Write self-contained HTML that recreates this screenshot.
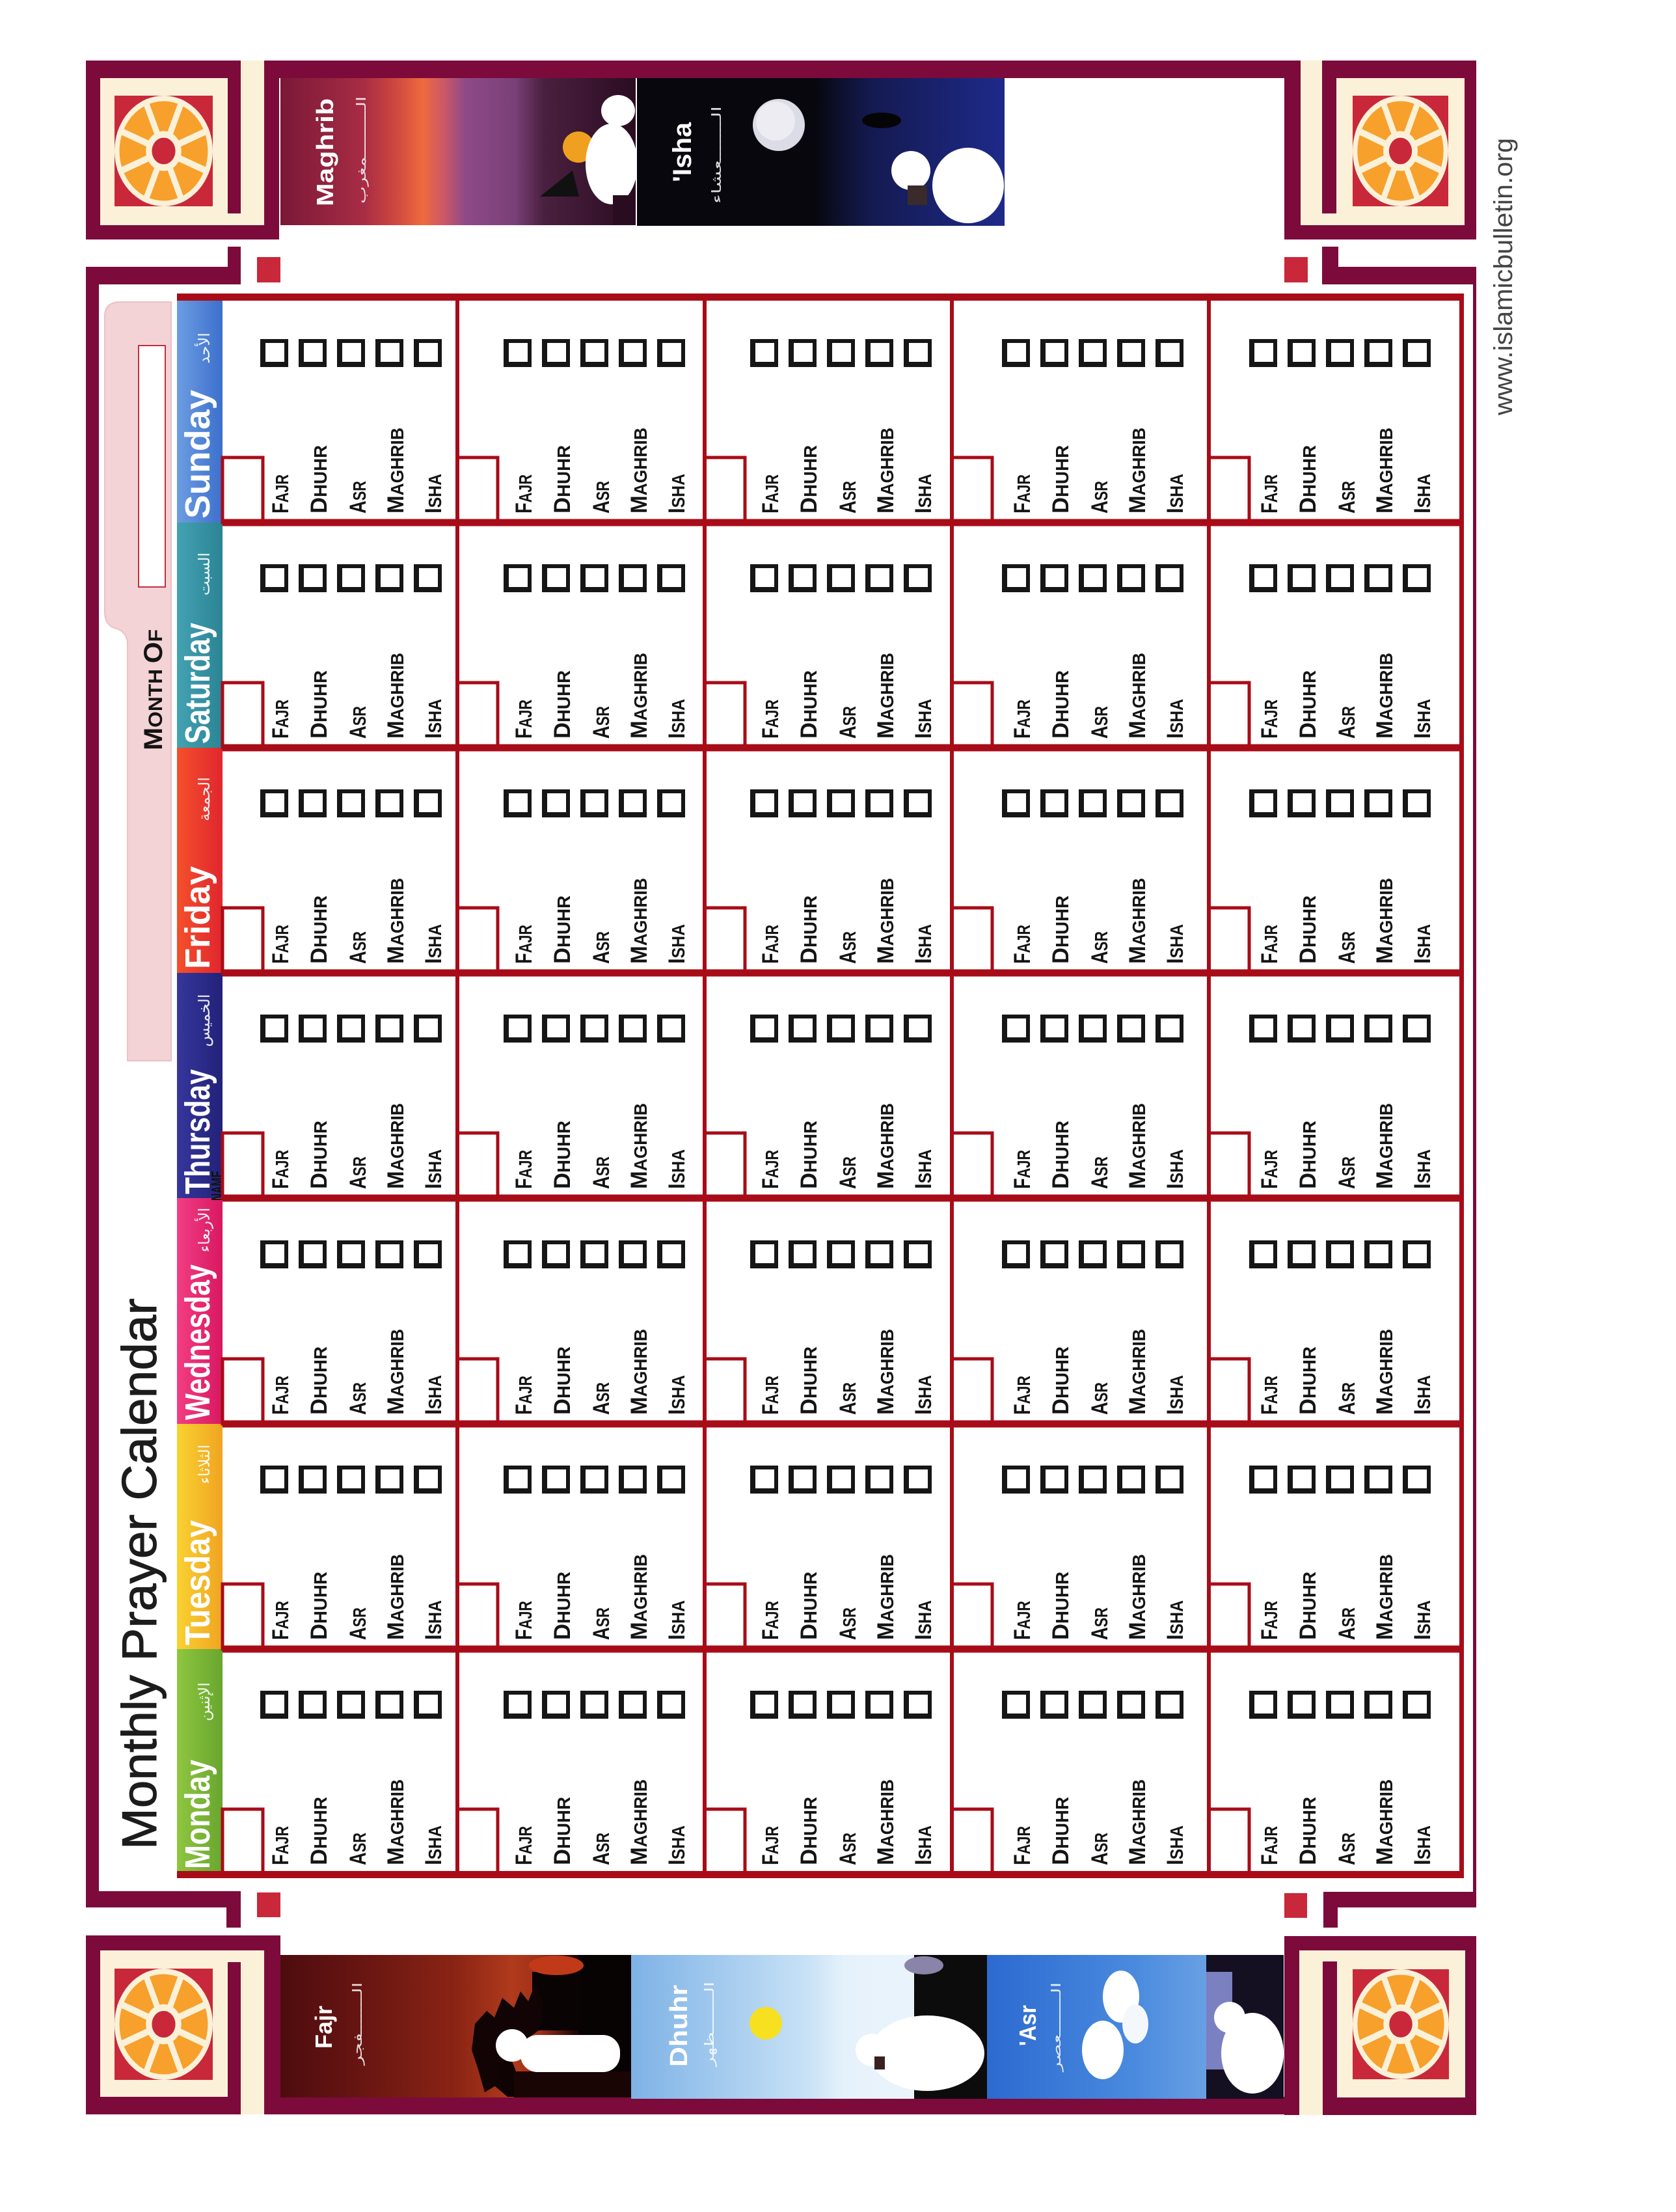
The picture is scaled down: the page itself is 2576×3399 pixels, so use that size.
<!DOCTYPE html>
<html><head><meta charset="utf-8">
<style>
html,body{margin:0;padding:0;background:#fff}
svg{display:block}
.m{fill:#7c0b3c}.cr{fill:#fbf1d8}.rq{fill:#c8283a}
.g text{font-family:"Liberation Sans",sans-serif;font-weight:bold;font-size:35px;fill:#141414}
.g tspan{font-size:28px}
.d{fill:none;stroke:#a80c18;stroke-width:5}
.c{fill:#161616;fill-rule:evenodd}
.dn{font-family:"Liberation Sans",sans-serif;font-weight:bold;font-size:54px;fill:#fff}
.ar{font-family:"DejaVu Sans",sans-serif;font-size:24px;fill:#fff;fill-opacity:.9}
.it{font-family:"Liberation Sans",sans-serif;font-weight:bold;fill:#fff}
.ia{font-family:"DejaVu Sans",sans-serif;font-size:20px;fill:#fff;fill-opacity:.85}
.gl{fill:#a80c18}
</style></head><body>
<svg width="2576" height="3399" viewBox="0 0 2576 3399" xmlns="http://www.w3.org/2000/svg">
<defs>
<linearGradient id="gSun" x1="0" x2="1" y1="0" y2="0"><stop offset="0" stop-color="#6c9de2"/><stop offset="1" stop-color="#3c70cc"/></linearGradient>
<linearGradient id="gSat" x1="0" x2="1" y1="0" y2="0"><stop offset="0" stop-color="#44a2b2"/><stop offset="1" stop-color="#2a8494"/></linearGradient>
<linearGradient id="gFri" x1="0" x2="1" y1="0" y2="0"><stop offset="0" stop-color="#f4502c"/><stop offset="1" stop-color="#e0262e"/></linearGradient>
<linearGradient id="gThu" x1="0" x2="1" y1="0" y2="0"><stop offset="0" stop-color="#36369c"/><stop offset="1" stop-color="#22227a"/></linearGradient>
<linearGradient id="gWed" x1="0" x2="1" y1="0" y2="0"><stop offset="0" stop-color="#f23e84"/><stop offset="1" stop-color="#d81860"/></linearGradient>
<linearGradient id="gTue" x1="0" x2="1" y1="0" y2="0"><stop offset="0" stop-color="#f9d232"/><stop offset="1" stop-color="#f0a422"/></linearGradient>
<linearGradient id="gMon" x1="0" x2="1" y1="0" y2="0"><stop offset="0" stop-color="#8ec640"/><stop offset="1" stop-color="#68a62e"/></linearGradient>
<linearGradient id="gMag" x1="0" x2="1" y1="0" y2="0">
<stop offset="0" stop-color="#7a1838"/><stop offset="0.236" stop-color="#a82c44"/><stop offset="0.33" stop-color="#d04a40"/><stop offset="0.40" stop-color="#ee6a3c"/><stop offset="0.46" stop-color="#cc5868"/><stop offset="0.52" stop-color="#8e4a86"/><stop offset="0.66" stop-color="#7a4078"/><stop offset="0.74" stop-color="#4a2040"/><stop offset="1" stop-color="#2a0c20"/></linearGradient>
<linearGradient id="gIsha" x1="0" x2="1" y1="0" y2="0"><stop offset="0" stop-color="#07070d"/><stop offset="0.3" stop-color="#141a50"/><stop offset="1" stop-color="#1e2a8a"/></linearGradient>
<linearGradient id="gFajr" x1="0" x2="1" y1="0" y2="0">
<stop offset="0" stop-color="#4e0c0e"/><stop offset="0.25" stop-color="#6a1612"/><stop offset="0.5" stop-color="#8a2414"/><stop offset="0.66" stop-color="#b03a1c"/><stop offset="0.74" stop-color="#a03018"/><stop offset="0.84" stop-color="#200606"/><stop offset="1" stop-color="#080303"/></linearGradient>
<linearGradient id="gDhu" x1="0" x2="1" y1="0" y2="0">
<stop offset="0" stop-color="#7eb2e6"/><stop offset="0.5" stop-color="#c8e2f6"/><stop offset="0.6" stop-color="#e6f2fb"/><stop offset="1" stop-color="#eef5fb"/></linearGradient>
<linearGradient id="gAsr" x1="0" x2="1" y1="0" y2="0">
<stop offset="0" stop-color="#2c6ad0"/><stop offset="0.5" stop-color="#4a8ade"/><stop offset="1" stop-color="#8ab8ea"/></linearGradient>
</defs>
<rect width="2576" height="3399" fill="#fff"/>

<!-- frame bands -->
<rect class="m" x="132" y="93" width="2137" height="27"/>
<rect class="m" x="132" y="3222" width="2137" height="27"/>
<rect class="m" x="132" y="410" width="20" height="2521"/>
<rect class="m" x="2264" y="410" width="5" height="2521"/>
<rect class="m" x="132" y="410" width="238" height="27"/><rect class="m" x="350" y="379" width="20" height="58"/>
<rect class="m" x="2032" y="410" width="237" height="27"/><rect class="m" x="2032" y="379" width="25" height="58"/>
<rect class="m" x="132" y="2906" width="238" height="25"/><rect class="m" x="348" y="2906" width="22" height="56"/>
<rect class="m" x="2034" y="2907" width="235" height="24"/><rect class="m" x="2034" y="2907" width="22" height="55"/>
<rect class="rq" x="395" y="395" width="36" height="39"/>
<rect class="rq" x="1974" y="395" width="36" height="39"/>
<rect class="rq" x="395" y="2908" width="36" height="38"/>
<rect class="rq" x="1974" y="2909" width="35" height="38"/>

<!-- corner blocks -->
<rect class="m" x="132" y="93" width="297" height="275"/><rect class="cr" x="154" y="120" width="252" height="226"/><rect class="cr" x="370" y="93" width="36" height="27"/><rect class="m" x="350" y="93" width="20" height="235"/>
<rect class="m" x="1974" y="93" width="295" height="275"/><rect class="cr" x="1999" y="120" width="252" height="226"/><rect class="cr" x="1999" y="93" width="33" height="27"/><rect class="m" x="2032" y="93" width="22" height="235"/>
<rect class="m" x="132" y="2974" width="299" height="275"/><rect class="cr" x="154" y="2997" width="252" height="225"/><rect class="cr" x="370" y="3222" width="36" height="27"/><rect class="m" x="350" y="3015" width="20" height="234"/>
<rect class="m" x="1974" y="2975" width="295" height="275"/><rect class="cr" x="1997" y="2997" width="255" height="226"/><rect class="cr" x="1997" y="3223" width="36" height="27"/><rect class="m" x="2033" y="3014" width="22" height="236"/>

<g transform="translate(176,147) scale(1.51,1.70)"><rect width="100" height="100" fill="#c8283a"/><circle cx="50" cy="50" r="50" fill="#fbf1d8"/><circle cx="50" cy="50" r="45" fill="#f7a02c"/><path d="M96.2 30.9L3.8 69.1M69.1 3.8L30.9 96.2M30.9 3.8L69.1 96.2M3.8 30.9L96.2 69.1" stroke="#fbf1d8" stroke-width="6"/><circle cx="50" cy="50" r="18" fill="#fbf1d8"/><circle cx="50" cy="50" r="12" fill="#c8283a"/></g>
<g transform="translate(2079,147) scale(1.47,1.70)"><rect width="100" height="100" fill="#c8283a"/><circle cx="50" cy="50" r="50" fill="#fbf1d8"/><circle cx="50" cy="50" r="45" fill="#f7a02c"/><path d="M96.2 30.9L3.8 69.1M69.1 3.8L30.9 96.2M30.9 3.8L69.1 96.2M3.8 30.9L96.2 69.1" stroke="#fbf1d8" stroke-width="6"/><circle cx="50" cy="50" r="18" fill="#fbf1d8"/><circle cx="50" cy="50" r="12" fill="#c8283a"/></g>
<g transform="translate(176,3025) scale(1.51,1.71)"><rect width="100" height="100" fill="#c8283a"/><circle cx="50" cy="50" r="50" fill="#fbf1d8"/><circle cx="50" cy="50" r="45" fill="#f7a02c"/><path d="M96.2 30.9L3.8 69.1M69.1 3.8L30.9 96.2M30.9 3.8L69.1 96.2M3.8 30.9L96.2 69.1" stroke="#fbf1d8" stroke-width="6"/><circle cx="50" cy="50" r="18" fill="#fbf1d8"/><circle cx="50" cy="50" r="12" fill="#c8283a"/></g>
<g transform="translate(2079,3026) scale(1.48,1.69)"><rect width="100" height="100" fill="#c8283a"/><circle cx="50" cy="50" r="50" fill="#fbf1d8"/><circle cx="50" cy="50" r="45" fill="#f7a02c"/><path d="M96.2 30.9L3.8 69.1M69.1 3.8L30.9 96.2M30.9 3.8L69.1 96.2M3.8 30.9L96.2 69.1" stroke="#fbf1d8" stroke-width="6"/><circle cx="50" cy="50" r="18" fill="#fbf1d8"/><circle cx="50" cy="50" r="12" fill="#c8283a"/></g>

<!-- top images -->
<rect x="431" y="120" width="546" height="226" fill="url(#gMag)"/>
<circle cx="889" cy="226" r="24" fill="#f0a020"/>
<polygon points="830,302 880,262 890,302" fill="#111"/>
<ellipse cx="940" cy="252" rx="40" ry="62" fill="#fff"/>
<ellipse cx="950" cy="170" rx="26" ry="24" fill="#fff"/>
<rect x="942" y="300" width="35" height="46" fill="#2a0c20"/>
<text class="it" font-size="36" transform="translate(512,317) rotate(-90)" textLength="166" lengthAdjust="spacingAndGlyphs">Maghrib</text>
<text class="ia" transform="translate(562,313) rotate(-90)" textLength="165" lengthAdjust="spacingAndGlyphs">الـــــــــمغرب</text>

<rect x="979" y="120" width="565" height="227" fill="#07070d"/>
<rect x="1250" y="120" width="294" height="227" fill="url(#gIsha)"/>
<circle cx="1197" cy="192" r="40" fill="#dcdce6"/>
<circle cx="1192" cy="186" r="30" fill="#ececf2"/>
<ellipse cx="1355" cy="185" rx="30" ry="12" fill="#050508"/>
<ellipse cx="1488" cy="285" rx="55" ry="58" fill="#fff"/>
<circle cx="1400" cy="262" r="30" fill="#fff"/>
<rect x="1395" y="285" width="30" height="30" fill="#3a2a2a"/>
<text class="it" font-size="40" transform="translate(1062,280) rotate(-90)" textLength="92" lengthAdjust="spacingAndGlyphs">'Isha</text>
<text class="ia" transform="translate(1108,313) rotate(-90)" textLength="150" lengthAdjust="spacingAndGlyphs">الـــــــعشاء</text>

<!-- bottom images -->
<rect x="431" y="3004" width="539" height="219" fill="url(#gFajr)"/>
<rect x="889" y="3004" width="81" height="219" fill="#080303"/>
<rect x="818" y="3030" width="75" height="90" fill="#0a0303"/>
<ellipse cx="855" cy="3020" rx="42" ry="15" fill="#c03a1a"/>
<polygon points="730,3110 748,3090 760,3100 772,3070 790,3085 800,3060 812,3075 822,3050 835,3080 828,3120 800,3140 770,3200 745,3215 735,3180 725,3150" fill="#120404"/>
<polygon points="780,3150 800,3200 830,3222 780,3222 760,3205" fill="#100303"/>
<rect x="790" y="3183" width="180" height="40" fill="#1a0505"/>
<rect x="800" y="3127" width="153" height="57" rx="26" fill="#fff"/>
<circle cx="787" cy="3143" r="25" fill="#fff"/>
<text class="it" font-size="36" transform="translate(510,3148) rotate(-90)" textLength="66" lengthAdjust="spacingAndGlyphs">Fajr</text>
<text class="ia" transform="translate(556,3173) rotate(-90)" textLength="127" lengthAdjust="spacingAndGlyphs">الـــــــفجر</text>

<rect x="970" y="3004" width="547" height="221" fill="url(#gDhu)"/>
<rect x="1405" y="3004" width="112" height="221" fill="#0c0c0c"/>
<ellipse cx="1420" cy="3020" rx="30" ry="14" fill="#8a84a8"/>
<circle cx="1177" cy="3109" r="25" fill="#f6e020"/>
<ellipse cx="1425" cy="3155" rx="88" ry="58" fill="#fff"/>
<circle cx="1340" cy="3150" r="25" fill="#fff"/>
<rect x="1344" y="3160" width="16" height="20" fill="#3a2020"/>
<text class="it" font-size="38" transform="translate(1056,3176) rotate(-90)" textLength="126" lengthAdjust="spacingAndGlyphs">Dhuhr</text>
<text class="ia" transform="translate(1097,3175) rotate(-90)" textLength="130" lengthAdjust="spacingAndGlyphs">الـــــــظهر</text>

<rect x="1517" y="3004" width="456" height="221" fill="url(#gAsr)"/>
<rect x="1854" y="3004" width="119" height="221" fill="#141022"/>
<rect x="1854" y="3030" width="40" height="150" fill="#7a80c0"/>
<ellipse cx="1723" cy="3068" rx="28" ry="40" fill="#fff"/>
<ellipse cx="1695" cy="3150" rx="32" ry="45" fill="#fff"/>
<ellipse cx="1745" cy="3110" rx="20" ry="30" fill="#f4f8fc"/>
<ellipse cx="1925" cy="3155" rx="48" ry="62" fill="#fff"/>
<circle cx="1890" cy="3100" r="24" fill="#fff"/>
<text class="it" font-size="36" transform="translate(1592,3144) rotate(-90)" textLength="63" lengthAdjust="spacingAndGlyphs">'Asr</text>
<text class="ia" transform="translate(1630,3183) rotate(-90)" textLength="137" lengthAdjust="spacingAndGlyphs">الـــــــعصر</text>

<!-- title -->
<text transform="translate(240,2842) rotate(-90)" font-family="Liberation Sans, sans-serif" font-size="75" fill="#1c1c1c" stroke="#1c1c1c" stroke-width="1" textLength="847" lengthAdjust="spacingAndGlyphs">Monthly Prayer Calendar</text>

<!-- month of tab -->
<path d="M185 464H263V1630H196V990Q196 970 176 965Q161 960 161 940V486Q161 464 185 464Z" fill="#f3d3d6" stroke="#ecc0c4" stroke-width="2"/>
<rect x="213" y="531" width="41" height="371" fill="#fff" stroke="#c03040" stroke-width="2"/>
<text transform="translate(249,1153) rotate(-90)" font-family="Liberation Sans, sans-serif" font-weight="bold" font-size="40" fill="#141414" textLength="186" lengthAdjust="spacingAndGlyphs">M<tspan font-size="30">ONTH </tspan>O<tspan font-size="30">F</tspan></text>

<!-- website -->
<text transform="translate(2324,638) rotate(-90)" font-family="Liberation Sans, sans-serif" font-size="40" fill="#444" textLength="426" lengthAdjust="spacingAndGlyphs">www.islamicbulletin.org</text>

<!-- day header strips -->
<rect x="272" y="457" width="70" height="346" fill="url(#gSun)"/>
<rect x="272" y="803" width="70" height="346" fill="url(#gSat)"/>
<rect x="272" y="1149" width="70" height="346" fill="url(#gFri)"/>
<rect x="272" y="1495" width="70" height="346" fill="url(#gThu)"/>
<rect x="272" y="1841" width="70" height="347" fill="url(#gWed)"/>
<rect x="272" y="2188" width="70" height="346" fill="url(#gTue)"/>
<rect x="272" y="2534" width="70" height="351" fill="url(#gMon)"/>
<text class="dn" transform="translate(322,797) rotate(-90)" textLength="198" lengthAdjust="spacingAndGlyphs">Sunday</text>
<text class="dn" transform="translate(322,1143) rotate(-90)" textLength="186" lengthAdjust="spacingAndGlyphs">Saturday</text>
<text class="dn" transform="translate(322,1489) rotate(-90)" textLength="158" lengthAdjust="spacingAndGlyphs">Friday</text>
<text class="dn" transform="translate(322,1835) rotate(-90)" textLength="192" lengthAdjust="spacingAndGlyphs">Thursday</text>
<text class="dn" transform="translate(322,2182) rotate(-90)" textLength="239" lengthAdjust="spacingAndGlyphs">Wednesday</text>
<text class="dn" transform="translate(322,2528) rotate(-90)" textLength="192" lengthAdjust="spacingAndGlyphs">Tuesday</text>
<text class="dn" transform="translate(322,2872) rotate(-90)" textLength="168" lengthAdjust="spacingAndGlyphs">Monday</text>
<text class="ar" transform="translate(322,535) rotate(-90)" text-anchor="middle">الأحد</text>
<text class="ar" transform="translate(322,882) rotate(-90)" text-anchor="middle">السبت</text>
<text class="ar" transform="translate(322,1228) rotate(-90)" text-anchor="middle">الجمعة</text>
<text class="ar" transform="translate(322,1568) rotate(-90)" text-anchor="middle">الخميس</text>
<text class="ar" transform="translate(322,1890) rotate(-90)" text-anchor="middle">الأربعاء</text>
<text class="ar" transform="translate(322,2250) rotate(-90)" text-anchor="middle">الثلاثاء</text>
<text class="ar" transform="translate(322,2615) rotate(-90)" text-anchor="middle">الإثنين</text>
<text transform="translate(343,1845) rotate(-90)" font-family="Liberation Sans, sans-serif" font-weight="bold" font-size="26" fill="#111" textLength="46" lengthAdjust="spacingAndGlyphs">NAME</text>

<!-- cells -->
<g class="g">
<!-- Sunday -->
<g transform="translate(400,803) rotate(-90)"><rect class="d" x="0" y="-58" width="100" height="62"/><path class="c" d="M239 0h43v43h-43zM247 8h29v29h-29zM239 59h43v43h-43zM247 67h29v29h-29zM239 118h43v43h-43zM247 126h29v29h-29zM239 177h43v43h-43zM247 185h29v29h-29zM239 236h43v43h-43zM247 244h29v29h-29z"/><text x="14" y="43" textLength="60" lengthAdjust="spacingAndGlyphs">F<tspan>AJR</tspan></text><text x="14" y="102" textLength="105" lengthAdjust="spacingAndGlyphs">D<tspan>HUHR</tspan></text><text x="14" y="162" textLength="50" lengthAdjust="spacingAndGlyphs">A<tspan>SR</tspan></text><text x="14" y="220" textLength="132" lengthAdjust="spacingAndGlyphs">M<tspan>AGHRIB</tspan></text><text x="14" y="278" textLength="61" lengthAdjust="spacingAndGlyphs">I<tspan>SHA</tspan></text></g>
<g transform="translate(774,803) rotate(-90)"><rect class="d" x="0" y="-71" width="100" height="62"/><path class="c" d="M239 0h43v43h-43zM247 8h29v29h-29zM239 59h43v43h-43zM247 67h29v29h-29zM239 118h43v43h-43zM247 126h29v29h-29zM239 177h43v43h-43zM247 185h29v29h-29zM239 236h43v43h-43zM247 244h29v29h-29z"/><text x="14" y="43" textLength="60" lengthAdjust="spacingAndGlyphs">F<tspan>AJR</tspan></text><text x="14" y="102" textLength="105" lengthAdjust="spacingAndGlyphs">D<tspan>HUHR</tspan></text><text x="14" y="162" textLength="50" lengthAdjust="spacingAndGlyphs">A<tspan>SR</tspan></text><text x="14" y="220" textLength="132" lengthAdjust="spacingAndGlyphs">M<tspan>AGHRIB</tspan></text><text x="14" y="278" textLength="61" lengthAdjust="spacingAndGlyphs">I<tspan>SHA</tspan></text></g>
<g transform="translate(1153,803) rotate(-90)"><rect class="d" x="0" y="-70" width="100" height="62"/><path class="c" d="M239 0h43v43h-43zM247 8h29v29h-29zM239 59h43v43h-43zM247 67h29v29h-29zM239 118h43v43h-43zM247 126h29v29h-29zM239 177h43v43h-43zM247 185h29v29h-29zM239 236h43v43h-43zM247 244h29v29h-29z"/><text x="14" y="43" textLength="60" lengthAdjust="spacingAndGlyphs">F<tspan>AJR</tspan></text><text x="14" y="102" textLength="105" lengthAdjust="spacingAndGlyphs">D<tspan>HUHR</tspan></text><text x="14" y="162" textLength="50" lengthAdjust="spacingAndGlyphs">A<tspan>SR</tspan></text><text x="14" y="220" textLength="132" lengthAdjust="spacingAndGlyphs">M<tspan>AGHRIB</tspan></text><text x="14" y="278" textLength="61" lengthAdjust="spacingAndGlyphs">I<tspan>SHA</tspan></text></g>
<g transform="translate(1540,803) rotate(-90)"><rect class="d" x="0" y="-77" width="100" height="62"/><path class="c" d="M239 0h43v43h-43zM247 8h29v29h-29zM239 59h43v43h-43zM247 67h29v29h-29zM239 118h43v43h-43zM247 126h29v29h-29zM239 177h43v43h-43zM247 185h29v29h-29zM239 236h43v43h-43zM247 244h29v29h-29z"/><text x="14" y="43" textLength="60" lengthAdjust="spacingAndGlyphs">F<tspan>AJR</tspan></text><text x="14" y="102" textLength="105" lengthAdjust="spacingAndGlyphs">D<tspan>HUHR</tspan></text><text x="14" y="162" textLength="50" lengthAdjust="spacingAndGlyphs">A<tspan>SR</tspan></text><text x="14" y="220" textLength="132" lengthAdjust="spacingAndGlyphs">M<tspan>AGHRIB</tspan></text><text x="14" y="278" textLength="61" lengthAdjust="spacingAndGlyphs">I<tspan>SHA</tspan></text></g>
<g transform="translate(1920,803) rotate(-90)"><rect class="d" x="0" y="-62" width="100" height="62"/><path class="c" d="M239 0h43v43h-43zM247 8h29v29h-29zM239 59h43v43h-43zM247 67h29v29h-29zM239 118h43v43h-43zM247 126h29v29h-29zM239 177h43v43h-43zM247 185h29v29h-29zM239 236h43v43h-43zM247 244h29v29h-29z"/><text x="14" y="43" textLength="60" lengthAdjust="spacingAndGlyphs">F<tspan>AJR</tspan></text><text x="14" y="102" textLength="105" lengthAdjust="spacingAndGlyphs">D<tspan>HUHR</tspan></text><text x="14" y="162" textLength="50" lengthAdjust="spacingAndGlyphs">A<tspan>SR</tspan></text><text x="14" y="220" textLength="132" lengthAdjust="spacingAndGlyphs">M<tspan>AGHRIB</tspan></text><text x="14" y="278" textLength="61" lengthAdjust="spacingAndGlyphs">I<tspan>SHA</tspan></text></g>
<!-- Saturday -->
<g transform="translate(400,1149) rotate(-90)"><rect class="d" x="0" y="-58" width="100" height="62"/><path class="c" d="M239 0h43v43h-43zM247 8h29v29h-29zM239 59h43v43h-43zM247 67h29v29h-29zM239 118h43v43h-43zM247 126h29v29h-29zM239 177h43v43h-43zM247 185h29v29h-29zM239 236h43v43h-43zM247 244h29v29h-29z"/><text x="14" y="43" textLength="60" lengthAdjust="spacingAndGlyphs">F<tspan>AJR</tspan></text><text x="14" y="102" textLength="105" lengthAdjust="spacingAndGlyphs">D<tspan>HUHR</tspan></text><text x="14" y="162" textLength="50" lengthAdjust="spacingAndGlyphs">A<tspan>SR</tspan></text><text x="14" y="220" textLength="132" lengthAdjust="spacingAndGlyphs">M<tspan>AGHRIB</tspan></text><text x="14" y="278" textLength="61" lengthAdjust="spacingAndGlyphs">I<tspan>SHA</tspan></text></g>
<g transform="translate(774,1149) rotate(-90)"><rect class="d" x="0" y="-71" width="100" height="62"/><path class="c" d="M239 0h43v43h-43zM247 8h29v29h-29zM239 59h43v43h-43zM247 67h29v29h-29zM239 118h43v43h-43zM247 126h29v29h-29zM239 177h43v43h-43zM247 185h29v29h-29zM239 236h43v43h-43zM247 244h29v29h-29z"/><text x="14" y="43" textLength="60" lengthAdjust="spacingAndGlyphs">F<tspan>AJR</tspan></text><text x="14" y="102" textLength="105" lengthAdjust="spacingAndGlyphs">D<tspan>HUHR</tspan></text><text x="14" y="162" textLength="50" lengthAdjust="spacingAndGlyphs">A<tspan>SR</tspan></text><text x="14" y="220" textLength="132" lengthAdjust="spacingAndGlyphs">M<tspan>AGHRIB</tspan></text><text x="14" y="278" textLength="61" lengthAdjust="spacingAndGlyphs">I<tspan>SHA</tspan></text></g>
<g transform="translate(1153,1149) rotate(-90)"><rect class="d" x="0" y="-70" width="100" height="62"/><path class="c" d="M239 0h43v43h-43zM247 8h29v29h-29zM239 59h43v43h-43zM247 67h29v29h-29zM239 118h43v43h-43zM247 126h29v29h-29zM239 177h43v43h-43zM247 185h29v29h-29zM239 236h43v43h-43zM247 244h29v29h-29z"/><text x="14" y="43" textLength="60" lengthAdjust="spacingAndGlyphs">F<tspan>AJR</tspan></text><text x="14" y="102" textLength="105" lengthAdjust="spacingAndGlyphs">D<tspan>HUHR</tspan></text><text x="14" y="162" textLength="50" lengthAdjust="spacingAndGlyphs">A<tspan>SR</tspan></text><text x="14" y="220" textLength="132" lengthAdjust="spacingAndGlyphs">M<tspan>AGHRIB</tspan></text><text x="14" y="278" textLength="61" lengthAdjust="spacingAndGlyphs">I<tspan>SHA</tspan></text></g>
<g transform="translate(1540,1149) rotate(-90)"><rect class="d" x="0" y="-77" width="100" height="62"/><path class="c" d="M239 0h43v43h-43zM247 8h29v29h-29zM239 59h43v43h-43zM247 67h29v29h-29zM239 118h43v43h-43zM247 126h29v29h-29zM239 177h43v43h-43zM247 185h29v29h-29zM239 236h43v43h-43zM247 244h29v29h-29z"/><text x="14" y="43" textLength="60" lengthAdjust="spacingAndGlyphs">F<tspan>AJR</tspan></text><text x="14" y="102" textLength="105" lengthAdjust="spacingAndGlyphs">D<tspan>HUHR</tspan></text><text x="14" y="162" textLength="50" lengthAdjust="spacingAndGlyphs">A<tspan>SR</tspan></text><text x="14" y="220" textLength="132" lengthAdjust="spacingAndGlyphs">M<tspan>AGHRIB</tspan></text><text x="14" y="278" textLength="61" lengthAdjust="spacingAndGlyphs">I<tspan>SHA</tspan></text></g>
<g transform="translate(1920,1149) rotate(-90)"><rect class="d" x="0" y="-62" width="100" height="62"/><path class="c" d="M239 0h43v43h-43zM247 8h29v29h-29zM239 59h43v43h-43zM247 67h29v29h-29zM239 118h43v43h-43zM247 126h29v29h-29zM239 177h43v43h-43zM247 185h29v29h-29zM239 236h43v43h-43zM247 244h29v29h-29z"/><text x="14" y="43" textLength="60" lengthAdjust="spacingAndGlyphs">F<tspan>AJR</tspan></text><text x="14" y="102" textLength="105" lengthAdjust="spacingAndGlyphs">D<tspan>HUHR</tspan></text><text x="14" y="162" textLength="50" lengthAdjust="spacingAndGlyphs">A<tspan>SR</tspan></text><text x="14" y="220" textLength="132" lengthAdjust="spacingAndGlyphs">M<tspan>AGHRIB</tspan></text><text x="14" y="278" textLength="61" lengthAdjust="spacingAndGlyphs">I<tspan>SHA</tspan></text></g>
<!-- Friday -->
<g transform="translate(400,1495) rotate(-90)"><rect class="d" x="0" y="-58" width="100" height="62"/><path class="c" d="M239 0h43v43h-43zM247 8h29v29h-29zM239 59h43v43h-43zM247 67h29v29h-29zM239 118h43v43h-43zM247 126h29v29h-29zM239 177h43v43h-43zM247 185h29v29h-29zM239 236h43v43h-43zM247 244h29v29h-29z"/><text x="14" y="43" textLength="60" lengthAdjust="spacingAndGlyphs">F<tspan>AJR</tspan></text><text x="14" y="102" textLength="105" lengthAdjust="spacingAndGlyphs">D<tspan>HUHR</tspan></text><text x="14" y="162" textLength="50" lengthAdjust="spacingAndGlyphs">A<tspan>SR</tspan></text><text x="14" y="220" textLength="132" lengthAdjust="spacingAndGlyphs">M<tspan>AGHRIB</tspan></text><text x="14" y="278" textLength="61" lengthAdjust="spacingAndGlyphs">I<tspan>SHA</tspan></text></g>
<g transform="translate(774,1495) rotate(-90)"><rect class="d" x="0" y="-71" width="100" height="62"/><path class="c" d="M239 0h43v43h-43zM247 8h29v29h-29zM239 59h43v43h-43zM247 67h29v29h-29zM239 118h43v43h-43zM247 126h29v29h-29zM239 177h43v43h-43zM247 185h29v29h-29zM239 236h43v43h-43zM247 244h29v29h-29z"/><text x="14" y="43" textLength="60" lengthAdjust="spacingAndGlyphs">F<tspan>AJR</tspan></text><text x="14" y="102" textLength="105" lengthAdjust="spacingAndGlyphs">D<tspan>HUHR</tspan></text><text x="14" y="162" textLength="50" lengthAdjust="spacingAndGlyphs">A<tspan>SR</tspan></text><text x="14" y="220" textLength="132" lengthAdjust="spacingAndGlyphs">M<tspan>AGHRIB</tspan></text><text x="14" y="278" textLength="61" lengthAdjust="spacingAndGlyphs">I<tspan>SHA</tspan></text></g>
<g transform="translate(1153,1495) rotate(-90)"><rect class="d" x="0" y="-70" width="100" height="62"/><path class="c" d="M239 0h43v43h-43zM247 8h29v29h-29zM239 59h43v43h-43zM247 67h29v29h-29zM239 118h43v43h-43zM247 126h29v29h-29zM239 177h43v43h-43zM247 185h29v29h-29zM239 236h43v43h-43zM247 244h29v29h-29z"/><text x="14" y="43" textLength="60" lengthAdjust="spacingAndGlyphs">F<tspan>AJR</tspan></text><text x="14" y="102" textLength="105" lengthAdjust="spacingAndGlyphs">D<tspan>HUHR</tspan></text><text x="14" y="162" textLength="50" lengthAdjust="spacingAndGlyphs">A<tspan>SR</tspan></text><text x="14" y="220" textLength="132" lengthAdjust="spacingAndGlyphs">M<tspan>AGHRIB</tspan></text><text x="14" y="278" textLength="61" lengthAdjust="spacingAndGlyphs">I<tspan>SHA</tspan></text></g>
<g transform="translate(1540,1495) rotate(-90)"><rect class="d" x="0" y="-77" width="100" height="62"/><path class="c" d="M239 0h43v43h-43zM247 8h29v29h-29zM239 59h43v43h-43zM247 67h29v29h-29zM239 118h43v43h-43zM247 126h29v29h-29zM239 177h43v43h-43zM247 185h29v29h-29zM239 236h43v43h-43zM247 244h29v29h-29z"/><text x="14" y="43" textLength="60" lengthAdjust="spacingAndGlyphs">F<tspan>AJR</tspan></text><text x="14" y="102" textLength="105" lengthAdjust="spacingAndGlyphs">D<tspan>HUHR</tspan></text><text x="14" y="162" textLength="50" lengthAdjust="spacingAndGlyphs">A<tspan>SR</tspan></text><text x="14" y="220" textLength="132" lengthAdjust="spacingAndGlyphs">M<tspan>AGHRIB</tspan></text><text x="14" y="278" textLength="61" lengthAdjust="spacingAndGlyphs">I<tspan>SHA</tspan></text></g>
<g transform="translate(1920,1495) rotate(-90)"><rect class="d" x="0" y="-62" width="100" height="62"/><path class="c" d="M239 0h43v43h-43zM247 8h29v29h-29zM239 59h43v43h-43zM247 67h29v29h-29zM239 118h43v43h-43zM247 126h29v29h-29zM239 177h43v43h-43zM247 185h29v29h-29zM239 236h43v43h-43zM247 244h29v29h-29z"/><text x="14" y="43" textLength="60" lengthAdjust="spacingAndGlyphs">F<tspan>AJR</tspan></text><text x="14" y="102" textLength="105" lengthAdjust="spacingAndGlyphs">D<tspan>HUHR</tspan></text><text x="14" y="162" textLength="50" lengthAdjust="spacingAndGlyphs">A<tspan>SR</tspan></text><text x="14" y="220" textLength="132" lengthAdjust="spacingAndGlyphs">M<tspan>AGHRIB</tspan></text><text x="14" y="278" textLength="61" lengthAdjust="spacingAndGlyphs">I<tspan>SHA</tspan></text></g>
<!-- Thursday -->
<g transform="translate(400,1841) rotate(-90)"><rect class="d" x="0" y="-58" width="100" height="62"/><path class="c" d="M239 0h43v43h-43zM247 8h29v29h-29zM239 59h43v43h-43zM247 67h29v29h-29zM239 118h43v43h-43zM247 126h29v29h-29zM239 177h43v43h-43zM247 185h29v29h-29zM239 236h43v43h-43zM247 244h29v29h-29z"/><text x="14" y="43" textLength="60" lengthAdjust="spacingAndGlyphs">F<tspan>AJR</tspan></text><text x="14" y="102" textLength="105" lengthAdjust="spacingAndGlyphs">D<tspan>HUHR</tspan></text><text x="14" y="162" textLength="50" lengthAdjust="spacingAndGlyphs">A<tspan>SR</tspan></text><text x="14" y="220" textLength="132" lengthAdjust="spacingAndGlyphs">M<tspan>AGHRIB</tspan></text><text x="14" y="278" textLength="61" lengthAdjust="spacingAndGlyphs">I<tspan>SHA</tspan></text></g>
<g transform="translate(774,1841) rotate(-90)"><rect class="d" x="0" y="-71" width="100" height="62"/><path class="c" d="M239 0h43v43h-43zM247 8h29v29h-29zM239 59h43v43h-43zM247 67h29v29h-29zM239 118h43v43h-43zM247 126h29v29h-29zM239 177h43v43h-43zM247 185h29v29h-29zM239 236h43v43h-43zM247 244h29v29h-29z"/><text x="14" y="43" textLength="60" lengthAdjust="spacingAndGlyphs">F<tspan>AJR</tspan></text><text x="14" y="102" textLength="105" lengthAdjust="spacingAndGlyphs">D<tspan>HUHR</tspan></text><text x="14" y="162" textLength="50" lengthAdjust="spacingAndGlyphs">A<tspan>SR</tspan></text><text x="14" y="220" textLength="132" lengthAdjust="spacingAndGlyphs">M<tspan>AGHRIB</tspan></text><text x="14" y="278" textLength="61" lengthAdjust="spacingAndGlyphs">I<tspan>SHA</tspan></text></g>
<g transform="translate(1153,1841) rotate(-90)"><rect class="d" x="0" y="-70" width="100" height="62"/><path class="c" d="M239 0h43v43h-43zM247 8h29v29h-29zM239 59h43v43h-43zM247 67h29v29h-29zM239 118h43v43h-43zM247 126h29v29h-29zM239 177h43v43h-43zM247 185h29v29h-29zM239 236h43v43h-43zM247 244h29v29h-29z"/><text x="14" y="43" textLength="60" lengthAdjust="spacingAndGlyphs">F<tspan>AJR</tspan></text><text x="14" y="102" textLength="105" lengthAdjust="spacingAndGlyphs">D<tspan>HUHR</tspan></text><text x="14" y="162" textLength="50" lengthAdjust="spacingAndGlyphs">A<tspan>SR</tspan></text><text x="14" y="220" textLength="132" lengthAdjust="spacingAndGlyphs">M<tspan>AGHRIB</tspan></text><text x="14" y="278" textLength="61" lengthAdjust="spacingAndGlyphs">I<tspan>SHA</tspan></text></g>
<g transform="translate(1540,1841) rotate(-90)"><rect class="d" x="0" y="-77" width="100" height="62"/><path class="c" d="M239 0h43v43h-43zM247 8h29v29h-29zM239 59h43v43h-43zM247 67h29v29h-29zM239 118h43v43h-43zM247 126h29v29h-29zM239 177h43v43h-43zM247 185h29v29h-29zM239 236h43v43h-43zM247 244h29v29h-29z"/><text x="14" y="43" textLength="60" lengthAdjust="spacingAndGlyphs">F<tspan>AJR</tspan></text><text x="14" y="102" textLength="105" lengthAdjust="spacingAndGlyphs">D<tspan>HUHR</tspan></text><text x="14" y="162" textLength="50" lengthAdjust="spacingAndGlyphs">A<tspan>SR</tspan></text><text x="14" y="220" textLength="132" lengthAdjust="spacingAndGlyphs">M<tspan>AGHRIB</tspan></text><text x="14" y="278" textLength="61" lengthAdjust="spacingAndGlyphs">I<tspan>SHA</tspan></text></g>
<g transform="translate(1920,1841) rotate(-90)"><rect class="d" x="0" y="-62" width="100" height="62"/><path class="c" d="M239 0h43v43h-43zM247 8h29v29h-29zM239 59h43v43h-43zM247 67h29v29h-29zM239 118h43v43h-43zM247 126h29v29h-29zM239 177h43v43h-43zM247 185h29v29h-29zM239 236h43v43h-43zM247 244h29v29h-29z"/><text x="14" y="43" textLength="60" lengthAdjust="spacingAndGlyphs">F<tspan>AJR</tspan></text><text x="14" y="102" textLength="105" lengthAdjust="spacingAndGlyphs">D<tspan>HUHR</tspan></text><text x="14" y="162" textLength="50" lengthAdjust="spacingAndGlyphs">A<tspan>SR</tspan></text><text x="14" y="220" textLength="132" lengthAdjust="spacingAndGlyphs">M<tspan>AGHRIB</tspan></text><text x="14" y="278" textLength="61" lengthAdjust="spacingAndGlyphs">I<tspan>SHA</tspan></text></g>
<!-- Wednesday -->
<g transform="translate(400,2188) rotate(-90)"><rect class="d" x="0" y="-58" width="100" height="62"/><path class="c" d="M239 0h43v43h-43zM247 8h29v29h-29zM239 59h43v43h-43zM247 67h29v29h-29zM239 118h43v43h-43zM247 126h29v29h-29zM239 177h43v43h-43zM247 185h29v29h-29zM239 236h43v43h-43zM247 244h29v29h-29z"/><text x="14" y="43" textLength="60" lengthAdjust="spacingAndGlyphs">F<tspan>AJR</tspan></text><text x="14" y="102" textLength="105" lengthAdjust="spacingAndGlyphs">D<tspan>HUHR</tspan></text><text x="14" y="162" textLength="50" lengthAdjust="spacingAndGlyphs">A<tspan>SR</tspan></text><text x="14" y="220" textLength="132" lengthAdjust="spacingAndGlyphs">M<tspan>AGHRIB</tspan></text><text x="14" y="278" textLength="61" lengthAdjust="spacingAndGlyphs">I<tspan>SHA</tspan></text></g>
<g transform="translate(774,2188) rotate(-90)"><rect class="d" x="0" y="-71" width="100" height="62"/><path class="c" d="M239 0h43v43h-43zM247 8h29v29h-29zM239 59h43v43h-43zM247 67h29v29h-29zM239 118h43v43h-43zM247 126h29v29h-29zM239 177h43v43h-43zM247 185h29v29h-29zM239 236h43v43h-43zM247 244h29v29h-29z"/><text x="14" y="43" textLength="60" lengthAdjust="spacingAndGlyphs">F<tspan>AJR</tspan></text><text x="14" y="102" textLength="105" lengthAdjust="spacingAndGlyphs">D<tspan>HUHR</tspan></text><text x="14" y="162" textLength="50" lengthAdjust="spacingAndGlyphs">A<tspan>SR</tspan></text><text x="14" y="220" textLength="132" lengthAdjust="spacingAndGlyphs">M<tspan>AGHRIB</tspan></text><text x="14" y="278" textLength="61" lengthAdjust="spacingAndGlyphs">I<tspan>SHA</tspan></text></g>
<g transform="translate(1153,2188) rotate(-90)"><rect class="d" x="0" y="-70" width="100" height="62"/><path class="c" d="M239 0h43v43h-43zM247 8h29v29h-29zM239 59h43v43h-43zM247 67h29v29h-29zM239 118h43v43h-43zM247 126h29v29h-29zM239 177h43v43h-43zM247 185h29v29h-29zM239 236h43v43h-43zM247 244h29v29h-29z"/><text x="14" y="43" textLength="60" lengthAdjust="spacingAndGlyphs">F<tspan>AJR</tspan></text><text x="14" y="102" textLength="105" lengthAdjust="spacingAndGlyphs">D<tspan>HUHR</tspan></text><text x="14" y="162" textLength="50" lengthAdjust="spacingAndGlyphs">A<tspan>SR</tspan></text><text x="14" y="220" textLength="132" lengthAdjust="spacingAndGlyphs">M<tspan>AGHRIB</tspan></text><text x="14" y="278" textLength="61" lengthAdjust="spacingAndGlyphs">I<tspan>SHA</tspan></text></g>
<g transform="translate(1540,2188) rotate(-90)"><rect class="d" x="0" y="-77" width="100" height="62"/><path class="c" d="M239 0h43v43h-43zM247 8h29v29h-29zM239 59h43v43h-43zM247 67h29v29h-29zM239 118h43v43h-43zM247 126h29v29h-29zM239 177h43v43h-43zM247 185h29v29h-29zM239 236h43v43h-43zM247 244h29v29h-29z"/><text x="14" y="43" textLength="60" lengthAdjust="spacingAndGlyphs">F<tspan>AJR</tspan></text><text x="14" y="102" textLength="105" lengthAdjust="spacingAndGlyphs">D<tspan>HUHR</tspan></text><text x="14" y="162" textLength="50" lengthAdjust="spacingAndGlyphs">A<tspan>SR</tspan></text><text x="14" y="220" textLength="132" lengthAdjust="spacingAndGlyphs">M<tspan>AGHRIB</tspan></text><text x="14" y="278" textLength="61" lengthAdjust="spacingAndGlyphs">I<tspan>SHA</tspan></text></g>
<g transform="translate(1920,2188) rotate(-90)"><rect class="d" x="0" y="-62" width="100" height="62"/><path class="c" d="M239 0h43v43h-43zM247 8h29v29h-29zM239 59h43v43h-43zM247 67h29v29h-29zM239 118h43v43h-43zM247 126h29v29h-29zM239 177h43v43h-43zM247 185h29v29h-29zM239 236h43v43h-43zM247 244h29v29h-29z"/><text x="14" y="43" textLength="60" lengthAdjust="spacingAndGlyphs">F<tspan>AJR</tspan></text><text x="14" y="102" textLength="105" lengthAdjust="spacingAndGlyphs">D<tspan>HUHR</tspan></text><text x="14" y="162" textLength="50" lengthAdjust="spacingAndGlyphs">A<tspan>SR</tspan></text><text x="14" y="220" textLength="132" lengthAdjust="spacingAndGlyphs">M<tspan>AGHRIB</tspan></text><text x="14" y="278" textLength="61" lengthAdjust="spacingAndGlyphs">I<tspan>SHA</tspan></text></g>
<!-- Tuesday -->
<g transform="translate(400,2534) rotate(-90)"><rect class="d" x="0" y="-58" width="100" height="62"/><path class="c" d="M239 0h43v43h-43zM247 8h29v29h-29zM239 59h43v43h-43zM247 67h29v29h-29zM239 118h43v43h-43zM247 126h29v29h-29zM239 177h43v43h-43zM247 185h29v29h-29zM239 236h43v43h-43zM247 244h29v29h-29z"/><text x="14" y="43" textLength="60" lengthAdjust="spacingAndGlyphs">F<tspan>AJR</tspan></text><text x="14" y="102" textLength="105" lengthAdjust="spacingAndGlyphs">D<tspan>HUHR</tspan></text><text x="14" y="162" textLength="50" lengthAdjust="spacingAndGlyphs">A<tspan>SR</tspan></text><text x="14" y="220" textLength="132" lengthAdjust="spacingAndGlyphs">M<tspan>AGHRIB</tspan></text><text x="14" y="278" textLength="61" lengthAdjust="spacingAndGlyphs">I<tspan>SHA</tspan></text></g>
<g transform="translate(774,2534) rotate(-90)"><rect class="d" x="0" y="-71" width="100" height="62"/><path class="c" d="M239 0h43v43h-43zM247 8h29v29h-29zM239 59h43v43h-43zM247 67h29v29h-29zM239 118h43v43h-43zM247 126h29v29h-29zM239 177h43v43h-43zM247 185h29v29h-29zM239 236h43v43h-43zM247 244h29v29h-29z"/><text x="14" y="43" textLength="60" lengthAdjust="spacingAndGlyphs">F<tspan>AJR</tspan></text><text x="14" y="102" textLength="105" lengthAdjust="spacingAndGlyphs">D<tspan>HUHR</tspan></text><text x="14" y="162" textLength="50" lengthAdjust="spacingAndGlyphs">A<tspan>SR</tspan></text><text x="14" y="220" textLength="132" lengthAdjust="spacingAndGlyphs">M<tspan>AGHRIB</tspan></text><text x="14" y="278" textLength="61" lengthAdjust="spacingAndGlyphs">I<tspan>SHA</tspan></text></g>
<g transform="translate(1153,2534) rotate(-90)"><rect class="d" x="0" y="-70" width="100" height="62"/><path class="c" d="M239 0h43v43h-43zM247 8h29v29h-29zM239 59h43v43h-43zM247 67h29v29h-29zM239 118h43v43h-43zM247 126h29v29h-29zM239 177h43v43h-43zM247 185h29v29h-29zM239 236h43v43h-43zM247 244h29v29h-29z"/><text x="14" y="43" textLength="60" lengthAdjust="spacingAndGlyphs">F<tspan>AJR</tspan></text><text x="14" y="102" textLength="105" lengthAdjust="spacingAndGlyphs">D<tspan>HUHR</tspan></text><text x="14" y="162" textLength="50" lengthAdjust="spacingAndGlyphs">A<tspan>SR</tspan></text><text x="14" y="220" textLength="132" lengthAdjust="spacingAndGlyphs">M<tspan>AGHRIB</tspan></text><text x="14" y="278" textLength="61" lengthAdjust="spacingAndGlyphs">I<tspan>SHA</tspan></text></g>
<g transform="translate(1540,2534) rotate(-90)"><rect class="d" x="0" y="-77" width="100" height="62"/><path class="c" d="M239 0h43v43h-43zM247 8h29v29h-29zM239 59h43v43h-43zM247 67h29v29h-29zM239 118h43v43h-43zM247 126h29v29h-29zM239 177h43v43h-43zM247 185h29v29h-29zM239 236h43v43h-43zM247 244h29v29h-29z"/><text x="14" y="43" textLength="60" lengthAdjust="spacingAndGlyphs">F<tspan>AJR</tspan></text><text x="14" y="102" textLength="105" lengthAdjust="spacingAndGlyphs">D<tspan>HUHR</tspan></text><text x="14" y="162" textLength="50" lengthAdjust="spacingAndGlyphs">A<tspan>SR</tspan></text><text x="14" y="220" textLength="132" lengthAdjust="spacingAndGlyphs">M<tspan>AGHRIB</tspan></text><text x="14" y="278" textLength="61" lengthAdjust="spacingAndGlyphs">I<tspan>SHA</tspan></text></g>
<g transform="translate(1920,2534) rotate(-90)"><rect class="d" x="0" y="-62" width="100" height="62"/><path class="c" d="M239 0h43v43h-43zM247 8h29v29h-29zM239 59h43v43h-43zM247 67h29v29h-29zM239 118h43v43h-43zM247 126h29v29h-29zM239 177h43v43h-43zM247 185h29v29h-29zM239 236h43v43h-43zM247 244h29v29h-29z"/><text x="14" y="43" textLength="60" lengthAdjust="spacingAndGlyphs">F<tspan>AJR</tspan></text><text x="14" y="102" textLength="105" lengthAdjust="spacingAndGlyphs">D<tspan>HUHR</tspan></text><text x="14" y="162" textLength="50" lengthAdjust="spacingAndGlyphs">A<tspan>SR</tspan></text><text x="14" y="220" textLength="132" lengthAdjust="spacingAndGlyphs">M<tspan>AGHRIB</tspan></text><text x="14" y="278" textLength="61" lengthAdjust="spacingAndGlyphs">I<tspan>SHA</tspan></text></g>
<!-- Monday -->
<g transform="translate(400,2880) rotate(-90)"><rect class="d" x="0" y="-58" width="100" height="62"/><path class="c" d="M239 0h43v43h-43zM247 8h29v29h-29zM239 59h43v43h-43zM247 67h29v29h-29zM239 118h43v43h-43zM247 126h29v29h-29zM239 177h43v43h-43zM247 185h29v29h-29zM239 236h43v43h-43zM247 244h29v29h-29z"/><text x="14" y="43" textLength="60" lengthAdjust="spacingAndGlyphs">F<tspan>AJR</tspan></text><text x="14" y="102" textLength="105" lengthAdjust="spacingAndGlyphs">D<tspan>HUHR</tspan></text><text x="14" y="162" textLength="50" lengthAdjust="spacingAndGlyphs">A<tspan>SR</tspan></text><text x="14" y="220" textLength="132" lengthAdjust="spacingAndGlyphs">M<tspan>AGHRIB</tspan></text><text x="14" y="278" textLength="61" lengthAdjust="spacingAndGlyphs">I<tspan>SHA</tspan></text></g>
<g transform="translate(774,2880) rotate(-90)"><rect class="d" x="0" y="-71" width="100" height="62"/><path class="c" d="M239 0h43v43h-43zM247 8h29v29h-29zM239 59h43v43h-43zM247 67h29v29h-29zM239 118h43v43h-43zM247 126h29v29h-29zM239 177h43v43h-43zM247 185h29v29h-29zM239 236h43v43h-43zM247 244h29v29h-29z"/><text x="14" y="43" textLength="60" lengthAdjust="spacingAndGlyphs">F<tspan>AJR</tspan></text><text x="14" y="102" textLength="105" lengthAdjust="spacingAndGlyphs">D<tspan>HUHR</tspan></text><text x="14" y="162" textLength="50" lengthAdjust="spacingAndGlyphs">A<tspan>SR</tspan></text><text x="14" y="220" textLength="132" lengthAdjust="spacingAndGlyphs">M<tspan>AGHRIB</tspan></text><text x="14" y="278" textLength="61" lengthAdjust="spacingAndGlyphs">I<tspan>SHA</tspan></text></g>
<g transform="translate(1153,2880) rotate(-90)"><rect class="d" x="0" y="-70" width="100" height="62"/><path class="c" d="M239 0h43v43h-43zM247 8h29v29h-29zM239 59h43v43h-43zM247 67h29v29h-29zM239 118h43v43h-43zM247 126h29v29h-29zM239 177h43v43h-43zM247 185h29v29h-29zM239 236h43v43h-43zM247 244h29v29h-29z"/><text x="14" y="43" textLength="60" lengthAdjust="spacingAndGlyphs">F<tspan>AJR</tspan></text><text x="14" y="102" textLength="105" lengthAdjust="spacingAndGlyphs">D<tspan>HUHR</tspan></text><text x="14" y="162" textLength="50" lengthAdjust="spacingAndGlyphs">A<tspan>SR</tspan></text><text x="14" y="220" textLength="132" lengthAdjust="spacingAndGlyphs">M<tspan>AGHRIB</tspan></text><text x="14" y="278" textLength="61" lengthAdjust="spacingAndGlyphs">I<tspan>SHA</tspan></text></g>
<g transform="translate(1540,2880) rotate(-90)"><rect class="d" x="0" y="-77" width="100" height="62"/><path class="c" d="M239 0h43v43h-43zM247 8h29v29h-29zM239 59h43v43h-43zM247 67h29v29h-29zM239 118h43v43h-43zM247 126h29v29h-29zM239 177h43v43h-43zM247 185h29v29h-29zM239 236h43v43h-43zM247 244h29v29h-29z"/><text x="14" y="43" textLength="60" lengthAdjust="spacingAndGlyphs">F<tspan>AJR</tspan></text><text x="14" y="102" textLength="105" lengthAdjust="spacingAndGlyphs">D<tspan>HUHR</tspan></text><text x="14" y="162" textLength="50" lengthAdjust="spacingAndGlyphs">A<tspan>SR</tspan></text><text x="14" y="220" textLength="132" lengthAdjust="spacingAndGlyphs">M<tspan>AGHRIB</tspan></text><text x="14" y="278" textLength="61" lengthAdjust="spacingAndGlyphs">I<tspan>SHA</tspan></text></g>
<g transform="translate(1920,2880) rotate(-90)"><rect class="d" x="0" y="-62" width="100" height="62"/><path class="c" d="M239 0h43v43h-43zM247 8h29v29h-29zM239 59h43v43h-43zM247 67h29v29h-29zM239 118h43v43h-43zM247 126h29v29h-29zM239 177h43v43h-43zM247 185h29v29h-29zM239 236h43v43h-43zM247 244h29v29h-29z"/><text x="14" y="43" textLength="60" lengthAdjust="spacingAndGlyphs">F<tspan>AJR</tspan></text><text x="14" y="102" textLength="105" lengthAdjust="spacingAndGlyphs">D<tspan>HUHR</tspan></text><text x="14" y="162" textLength="50" lengthAdjust="spacingAndGlyphs">A<tspan>SR</tspan></text><text x="14" y="220" textLength="132" lengthAdjust="spacingAndGlyphs">M<tspan>AGHRIB</tspan></text><text x="14" y="278" textLength="61" lengthAdjust="spacingAndGlyphs">I<tspan>SHA</tspan></text></g>
</g>

<!-- grid lines -->
<rect class="gl" x="272" y="451" width="1978" height="11"/>
<rect class="gl" x="272" y="2875" width="1978" height="11"/>
<rect class="gl" x="342" y="797.5" width="1908" height="11"/>
<rect class="gl" x="342" y="1143.5" width="1908" height="11"/>
<rect class="gl" x="342" y="1489.5" width="1908" height="11"/>
<rect class="gl" x="342" y="1835.5" width="1908" height="11"/>
<rect class="gl" x="342" y="2182.5" width="1908" height="11"/>
<rect class="gl" x="342" y="2528.5" width="1908" height="11"/>
<rect class="gl" x="700" y="451" width="6" height="2435"/>
<rect class="gl" x="1080" y="451" width="6" height="2435"/>
<rect class="gl" x="1460" y="451" width="6" height="2435"/>
<rect class="gl" x="1855" y="451" width="6" height="2435"/>
<rect class="gl" x="2243" y="451" width="7" height="2435"/>
</svg>
</body></html>
